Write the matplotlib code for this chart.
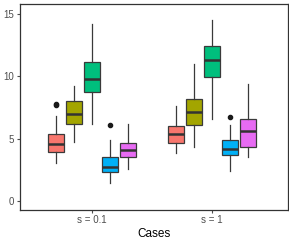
import matplotlib
matplotlib.use("Agg")
import matplotlib.pyplot as plt
import numpy as np

plt.rcParams['font.family'] = ['Liberation Sans', 'DejaVu Sans']

cases = ["s = 0.1", "s = 1"]
colors = ["#F8766D", "#A3A500", "#00BF7D", "#00B0F6", "#E76BF3"]

# per case, per series: whislo, q1, med, q3, whishi
whislo = [[3.07, 4.70, 6.15, 1.44, 2.57],
          [3.87, 4.31, 6.60, 2.38, 3.50]]
q1 = [[3.96, 6.15, 8.77, 2.30, 3.53],
      [4.63, 6.12, 9.92, 3.69, 4.35]]
med = [[4.57, 6.98, 9.81, 2.75, 4.07],
       [5.35, 7.14, 11.31, 4.17, 5.64]]
q3 = [[5.35, 8.04, 11.12, 3.55, 4.68],
      [6.01, 8.16, 12.43, 4.87, 6.58]]
whishi = [[6.84, 9.25, 14.17, 4.87, 6.15],
          [7.62, 10.96, 14.52, 6.07, 9.36]]
fliers = [[[7.68, 7.82], [], [], [6.07], []],
          [[], [], [], [6.71], []]]

fig = plt.figure(figsize=(2.89, 2.41), dpi=100)
ax = fig.add_axes([0.069, 0.129, 0.9275, 0.854])

offsets = np.array([-2, -1, 0, 1, 2]) * 0.15
for g in range(len(cases)):
    for k in range(len(colors)):
        st = dict(whislo=whislo[g][k], q1=q1[g][k], med=med[g][k],
                  q3=q3[g][k], whishi=whishi[g][k], fliers=fliers[g][k])
        ax.bxp([st], positions=[g + 1 + offsets[k]], widths=0.133,
               patch_artist=True, showcaps=False,
               boxprops=dict(facecolor=colors[k], edgecolor="#3a3a3a", linewidth=0.9),
               medianprops=dict(color="#333333", linewidth=1.8),
               whiskerprops=dict(color="#3a3a3a", linewidth=0.9),
               flierprops=dict(marker="o", markersize=3.0, markerfacecolor="#1a1a1a",
                               markeredgecolor="#1a1a1a"))

ax.set_xlim(0.4, 2.63)
ax.set_ylim(-0.72, 15.8)
ax.set_xticks([1, 2])
ax.set_xticklabels(cases)
ax.set_yticks([0, 5, 10, 15])
ax.set_yticklabels(["0", "5", "10", "15"])
ax.tick_params(colors="#4D4D4D", labelsize=7, length=2.5, width=0.8, pad=1.5)
ax.set_xlabel("Cases", fontsize=8.5, labelpad=2)
for s in ax.spines.values():
    s.set_color("#333333")
    s.set_linewidth(0.9)

fig.savefig("out.png", dpi=100)
